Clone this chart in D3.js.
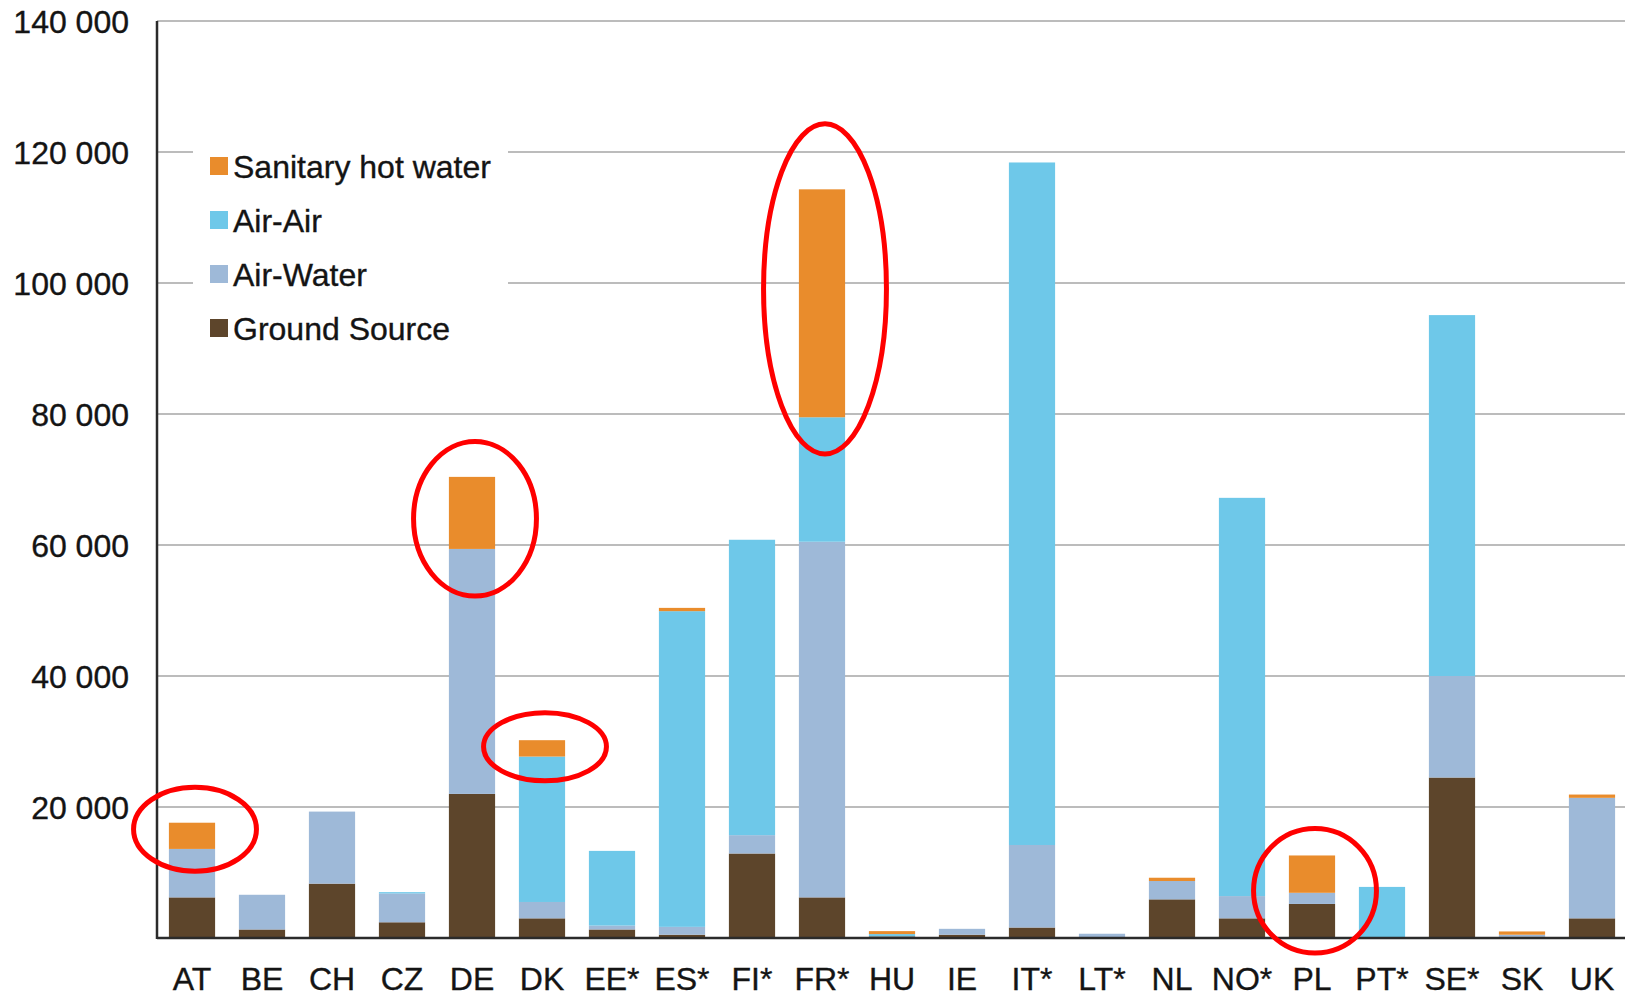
<!DOCTYPE html>
<meta charset="utf-8">
<style>
    body {
        margin: 0;
        background: #fff;
        font-family: "Liberation Sans", Arial, Helvetica, sans-serif;
    }

    .grid line {
        stroke: #a6a6a6;
        stroke-width: 1.5px;
    }

    .tick-label {
        font-size: 32px;
        fill: #141414;
        stroke: #141414;
        stroke-width: 0.35px;
    }
</style>

<body>
    <script src="https://d3js.org/d3.v7.min.js"></script>
    <script>
        // Countries along the x axis
        var countries = ["AT", "BE", "CH", "CZ", "DE", "DK", "EE*", "ES*", "FI*", "FR*", "HU",
            "IE", "IT*", "LT*", "NL", "NO*", "PL", "PT*", "SE*", "SK", "UK"];

        // Series values (units sold), one per country
        var groundSource = [6200, 1300, 8300, 2400, 22000, 3000, 1300, 500, 12900, 6200, 250,
            500, 1600, 150, 5900, 3000, 5200, 0, 24500, 200, 3000];
        var airWater = [7400, 5300, 11000, 4400, 37400, 2500, 600, 1200, 2800, 54300, 0,
            900, 12600, 500, 2800, 3400, 1700, 0, 15500, 300, 18400];
        var airAir = [0, 0, 0, 200, 0, 22200, 11400, 48200, 45100, 19000, 350,
            0, 104200, 0, 0, 60800, 0, 7800, 55100, 0, 0];
        var sanitaryHotWater = [4000, 0, 0, 0, 11000, 2500, 0, 500, 0, 34800, 450,
            0, 0, 0, 500, 0, 5700, 0, 0, 500, 500];

        var seriesNames = ["Ground Source", "Air-Water", "Air-Air", "Sanitary hot water"];
        var seriesColors = ["#5d452b", "#9eb9d8", "#6ec8e9", "#e98c2c"];
        var yTicks = [0, 20000, 40000, 60000, 80000, 100000, 120000, 140000];

        // Highlighted countries: ellipse centre value and half height (in units)
        var markCountries = ["AT", "DE", "DK", "FR*", "PL"];
        var markCentre = [16600, 64000, 29200, 99100, 7200];
        var markHalf = [6400, 11800, 5200, 25200, 9500];

        var width = 1625,
            height = 997;
        var margin = { top: 21, right: -2, bottom: 59, left: 157 };

        var svg = d3.select("body").append("svg")
            .attr("width", width)
            .attr("height", height);

        var x = d3.scaleBand()
            .domain(countries)
            .range([margin.left, width - margin.right])
            .paddingInner(0.34)
            .paddingOuter(0.17);

        var y = d3.scaleLinear()
            .domain([0, 140000])
            .range([height - margin.bottom, margin.top]);

        // Gridlines
        svg.append("g")
            .attr("class", "grid")
            .selectAll("line")
            .data(yTicks.slice(1))
            .enter().append("line")
            .attr("x1", margin.left)
            .attr("x2", width)
            .attr("y1", function (d) { return y(d); })
            .attr("y2", function (d) { return y(d); });

        // Y tick labels
        svg.append("g")
            .selectAll("text")
            .data(yTicks.slice(1))
            .enter().append("text")
            .attr("class", "tick-label")
            .attr("x", 129)
            .attr("y", function (d) { return y(d); })
            .attr("dy", "0.36em")
            .attr("text-anchor", "end")
            .text(function (d) { return d3.format(",")(d).replace(/,/g, " "); });

        // Stacked bars
        var table = countries.map(function (c, i) {
            return {
                country: c,
                "Ground Source": groundSource[i],
                "Air-Water": airWater[i],
                "Air-Air": airAir[i],
                "Sanitary hot water": sanitaryHotWater[i]
            };
        });
        var stacked = d3.stack().keys(seriesNames)(table);

        svg.append("g")
            .selectAll("g")
            .data(stacked)
            .enter().append("g")
            .attr("fill", function (d, i) { return seriesColors[i]; })
            .selectAll("rect")
            .data(function (d) { return d; })
            .enter().append("rect")
            .attr("x", function (d) { return x(d.data.country); })
            .attr("width", x.bandwidth())
            .attr("y", function (d) { return y(d[1]); })
            .attr("height", function (d) { return y(d[0]) - y(d[1]); });

        // Axes lines
        svg.append("line")
            .attr("x1", margin.left).attr("x2", margin.left)
            .attr("y1", y(140000)).attr("y2", y(0) + 1)
            .attr("stroke", "#2b2b2b").attr("stroke-width", 2.5);
        svg.append("line")
            .attr("x1", margin.left).attr("x2", width)
            .attr("y1", y(0)).attr("y2", y(0))
            .attr("stroke", "#2b2b2b").attr("stroke-width", 2.5);

        // X labels
        svg.append("g")
            .selectAll("text")
            .data(countries)
            .enter().append("text")
            .attr("class", "tick-label")
            .attr("x", function (d) { return x(d) + x.bandwidth() / 2; })
            .attr("y", 990)
            .attr("text-anchor", "middle")
            .text(function (d) { return d; });

        // Legend (drawn top-down: hot water first)
        var legend = svg.append("g");
        legend.append("rect")
            .attr("x", 193).attr("y", 138)
            .attr("width", 315).attr("height", 208)
            .attr("fill", "#fff");
        var order = seriesNames.slice().reverse();
        var item = legend.selectAll("g")
            .data(order)
            .enter().append("g")
            .attr("transform", function (d, i) { return "translate(210," + (166 + i * 54) + ")"; });
        item.append("rect")
            .attr("x", 0).attr("y", -9)
            .attr("width", 18).attr("height", 18)
            .attr("fill", function (d) { return seriesColors[seriesNames.indexOf(d)]; });
        item.append("text")
            .attr("class", "tick-label")
            .attr("x", 23)
            .attr("dy", "0.36em")
            .text(function (d) { return d; });

        // Red highlight ellipses
        svg.append("g")
            .selectAll("ellipse")
            .data(markCountries)
            .enter().append("ellipse")
            .attr("cx", function (d) { return x(d) + x.bandwidth() / 2 + 3; })
            .attr("cy", function (d, i) { return y(markCentre[i]); })
            .attr("rx", x.bandwidth() * 1.33)
            .attr("ry", function (d, i) { return y(0) - y(markHalf[i]); })
            .attr("fill", "none")
            .attr("stroke", "#ff0000")
            .attr("stroke-width", 5);
    </script>
</body>
